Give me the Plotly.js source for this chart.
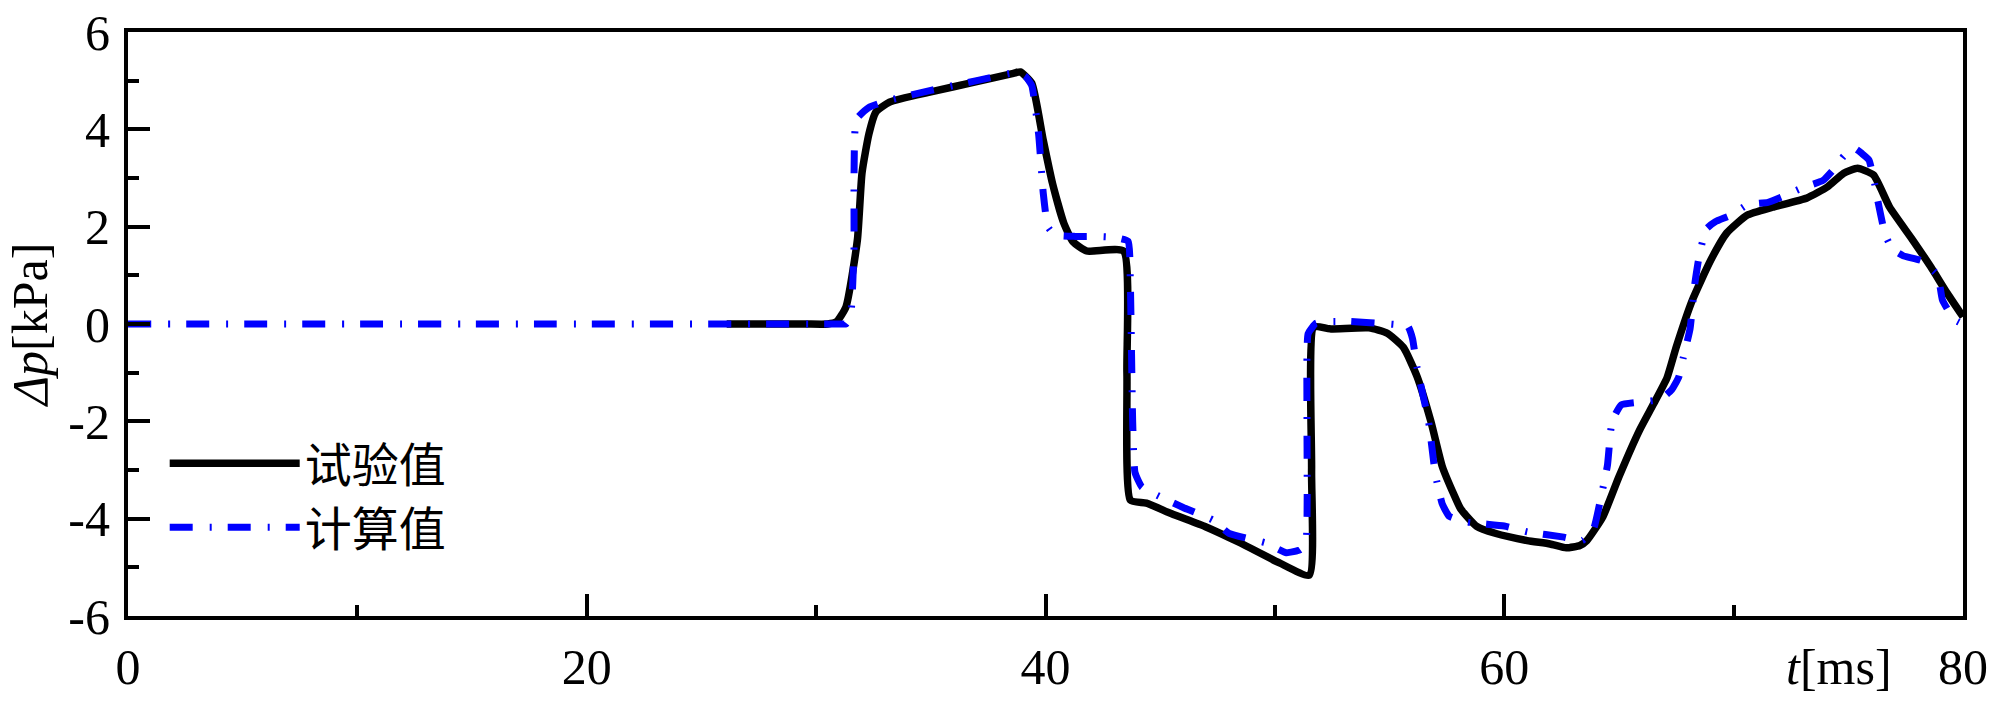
<!DOCTYPE html>
<html>
<head>
<meta charset="utf-8">
<script src="https://cdn.plot.ly/plotly-3.0.1.min.js"></script>
<style>
  body { margin: 0; background: #fff; }
  #chart { width: 2000px; height: 703px; }
</style>
</head>
<body>
<div id="chart"></div>
<script>
// measured curve (试验值)
var tExp = [26.1, 29.5, 30.5, 30.9, 31.3, 31.8, 32.0, 32.3, 32.6, 33.2, 35.0, 37.0, 38.6, 38.9, 39.4, 39.9,
  40.3, 40.8, 41.2, 41.8, 43.4, 43.55, 43.7, 44.4, 45.5, 47.0, 48.5, 50.2, 51.5, 51.6, 51.7,
  52.4, 54.1, 54.9, 55.6, 56.2, 56.8, 57.3, 57.8, 58.1, 58.8, 59.6, 61.0, 62.0, 62.7, 63.3,
  63.6, 64.3, 65.0, 65.9, 66.5, 67.1, 67.5, 68.2, 69.0, 69.7, 70.6, 71.7, 73.2, 74.1, 74.8,
  75.4, 76.1, 76.8, 77.8, 78.6, 79.3, 80.0];
var pExp = [0, 0, 0, 0.05, 0.35, 1.73, 3.1, 3.9, 4.35, 4.56, 4.77, 4.98, 5.15, 5.18, 4.95, 3.78,
  2.9, 2.07, 1.69, 1.5, 1.5, -1.0, -3.62, -3.68, -3.9, -4.17, -4.5, -4.91, -5.16, -3.0, -0.06,
  -0.1, -0.08, -0.19, -0.48, -1.08, -2.0, -2.93, -3.5, -3.8, -4.16, -4.3, -4.45, -4.52, -4.6, -4.55,
  -4.45, -3.96, -3.14, -2.18, -1.65, -1.1, -0.47, 0.49, 1.31, 1.87, 2.24, 2.4, 2.59, 2.82, 3.1,
  3.2, 3.06, 2.4, 1.73, 1.17, 0.64, 0.15];

// computed curve (计算值)
var tCal = [0, 15, 30.5, 31.1, 31.3, 31.5, 31.65, 31.75, 32.3, 33.2, 35.0, 37.0, 38.5, 39.1, 39.4, 39.7, 39.9, 40.1,
  40.4, 41.3, 42.2, 43.0, 43.6, 43.7, 43.8, 43.9, 44.2, 45.0, 46.0, 47.3, 48.0, 49.6, 50.5,
  51.1, 51.35, 51.4, 51.45, 51.8, 52.4, 53.3, 55.0, 55.8, 56.0, 56.2, 56.7, 57.0, 57.3, 57.6,
  58.4, 60.0, 61.0, 62.6, 63.4, 63.9, 64.2, 64.5, 64.7, 65.1, 66.0, 66.8, 67.3, 67.6, 67.8,
  68.1, 68.3, 68.5, 68.8, 69.2, 69.9, 70.6, 71.5, 72.3, 73.0, 73.9, 74.4, 74.8, 75.3, 75.6,
  75.9, 76.1, 76.3, 76.6, 76.9, 77.4, 78.2, 78.9, 79.1, 79.6, 80.0];
var pCal = [0, 0, 0, 0, 0, 0.15, 1.5, 4.2, 4.45, 4.6, 4.8, 5.0, 5.15, 5.1, 4.9, 3.9, 2.7, 2.0,
  1.83, 1.8, 1.8, 1.78, 1.7, 0.8, -2.0, -3.05, -3.35, -3.55, -3.77, -4.03, -4.3, -4.5, -4.7,
  -4.64, -4.5, -2.0, -0.2, 0.02, 0.05, 0.05, 0.0, -0.05, -0.3, -0.9, -2.0, -3.1, -3.7, -3.95,
  -4.07, -4.15, -4.27, -4.38, -4.45, -4.2, -3.6, -2.9, -2.0, -1.66, -1.6, -1.55, -1.35, -1.1, -0.7,
  -0.1, 0.8, 1.4, 1.95, 2.1, 2.24, 2.45, 2.5, 2.65, 2.8, 2.95, 3.2, 3.45, 3.6, 3.5,
  3.37, 3.0, 2.5, 1.85, 1.55, 1.4, 1.3, 1.0, 0.5, 0.1, 0];

var names = ['试验值', '计算值'];
var xTicks = [0, 20, 40, 60, 80];
var yTicks = [-6, -4, -2, 0, 2, 4, 6];

var serif = 'Liberation Serif, Times New Roman, serif';

var data = [
  {
    x: tExp, y: pExp, name: names[0],
    mode: 'lines', type: 'scatter',
    line: {color: '#000000', width: 7.5, shape: 'spline', smoothing: 0.5}
  },
  {
    x: tCal, y: pCal, name: names[1],
    mode: 'lines', type: 'scatter',
    line: {color: '#0000ff', width: 7, dash: '23px,17px,2px,16px', shape: 'spline', smoothing: 0.4}
  }
];

var axisCommon = {
  showgrid: false, zeroline: false,
  showline: true, linecolor: '#000', linewidth: 4, mirror: true,
  ticks: 'inside', ticklen: 22, tickwidth: 4, tickcolor: '#000',
  tickfont: {family: serif, size: 50, color: '#000'}
};

var layout = {
  width: 2000, height: 703,
  margin: {l: 128, r: 37, t: 32, b: 87},
  paper_bgcolor: '#fff', plot_bgcolor: '#fff',
  showlegend: true,
  legend: {
    x: 0.02, y: 0.325, xanchor: 'left', yanchor: 'top',
    bgcolor: 'rgba(0,0,0,0)', itemwidth: 130, tracegroupgap: 0,
    font: {family: 'Noto Sans CJK SC, sans-serif', size: 47, color: '#000'}
  },
  xaxis: Object.assign({}, axisCommon, {
    range: [0, 80], tickvals: xTicks, ticktext: xTicks.map(String),
    ticklabelstandoff: 4,
    minor: {dtick: 10, tick0: 0, ticks: 'inside', ticklen: 11, tickwidth: 4, tickcolor: '#000'}
  }),
  yaxis: Object.assign({}, axisCommon, {
    range: [-6, 6], tickvals: yTicks, ticktext: yTicks.map(String),
    ticklabelstandoff: 4,
    minor: {dtick: 1, tick0: 0, ticks: 'inside', ticklen: 11, tickwidth: 4, tickcolor: '#000'},
    title: {text: '<i>Δp</i>[kPa]', font: {family: serif, size: 50, color: '#000'}, standoff: 6}
  }),
  annotations: [
    {
      text: '<i>t</i>[ms]', xref: 'x', yref: 'paper', x: 74.6, y: -0.087,
      xanchor: 'center', yanchor: 'middle', showarrow: false,
      font: {family: serif, size: 50, color: '#000'}
    }
  ]
};

Plotly.newPlot('chart', data, layout, {staticPlot: true});
</script>
</body>
</html>
